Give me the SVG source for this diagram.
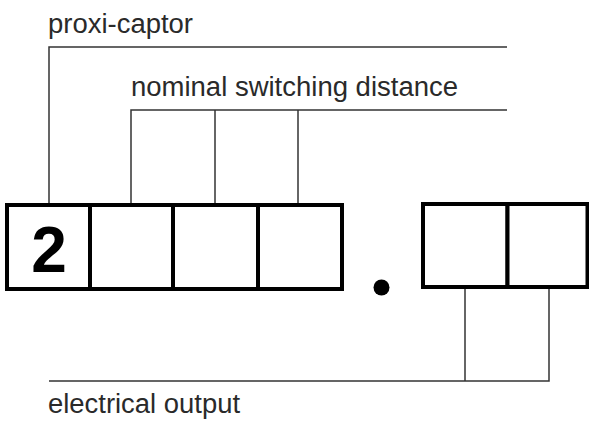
<svg xmlns="http://www.w3.org/2000/svg" width="589" height="422" viewBox="0 0 589 422">
<style>
.lbl{font-family:"Liberation Sans",Arial,sans-serif;font-size:27px;fill:#2a2a2a}
.conn{stroke:#333;stroke-width:1.5;fill:none}
.box{stroke:#000;stroke-width:4;fill:#fff}
</style>
<rect width="589" height="422" fill="#fff"/>
<g id="connectors">
<polyline class="conn" points="49,205 49,47 507,47"/>
<polyline class="conn" points="131,205 131,110 507,110"/>
<line class="conn" x1="215" y1="110" x2="215" y2="205"/>
<line class="conn" x1="298" y1="110" x2="298" y2="205"/>
<polyline class="conn" points="49,381 549,381 549,287"/>
<line class="conn" x1="465" y1="287" x2="465" y2="381"/>
</g>
<g id="label-proxi-captor"><text class="lbl" x="48" y="33" textLength="145" lengthAdjust="spacingAndGlyphs">proxi-captor</text></g>
<g id="label-nominal"><text class="lbl" x="131" y="96" textLength="327" lengthAdjust="spacingAndGlyphs">nominal switching distance</text></g>
<g id="label-electrical"><text class="lbl" x="48" y="413" textLength="192" lengthAdjust="spacingAndGlyphs">electrical output</text></g>
<g id="box1"><rect class="box" x="7" y="205" width="83" height="84"/><text x="49" y="272" text-anchor="middle" font-family="Liberation Sans,Arial,sans-serif" font-weight="bold" font-size="64" fill="#000">2</text></g>
<g id="box2"><rect class="box" x="90" y="205" width="83" height="84"/></g>
<g id="box3"><rect class="box" x="173" y="205" width="85" height="84"/></g>
<g id="box4"><rect class="box" x="258" y="205" width="84" height="84"/></g>
<g id="dot"><circle cx="381.5" cy="287.5" r="8" fill="#000"/></g>
<g id="box5"><rect class="box" x="423" y="204" width="84.5" height="83"/></g>
<g id="box6"><rect class="box" x="507.5" y="204" width="80" height="83"/></g>
</svg>
